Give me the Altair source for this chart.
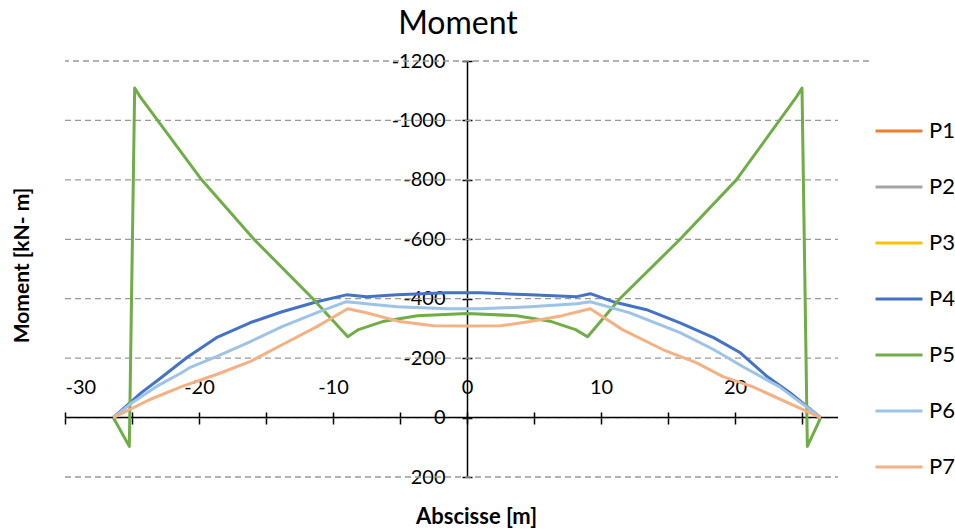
import altair as alt
import pandas as pd

# ---------------- data ----------------
series_names = ["P1", "P2", "P3", "P4", "P5", "P6", "P7"]
series_colors = ["#ED7D31", "#A5A5A5", "#FFC000", "#4472C4", "#70AD47", "#9DC3E6", "#F4B183"]

p4_x = [-26.4, -24.3, -23.0, -20.9, -18.7, -16.2, -13.8, -11.2, -9.0, -7.5, -5.2, -1.5,
        1.0, 4.7, 8.2, 9.2, 10.9, 13.4, 15.9, 18.4, 20.4, 22.4, 24.1, 26.4]
p4_m = [0, -84, -128, -202, -269, -319, -356, -390, -413, -407, -413, -420,
        -420, -413, -407, -417, -390, -363, -319, -269, -218, -138, -84, 0]

p5_x = [-26.4, -25.2, -24.8, -24.4, -19.8, -15.9, -11.5, -8.9, -8.1, -6.3, -3.7,
        0.0, 3.7, 6.3, 8.1, 9.0, 11.4, 15.9, 20.1, 24.6, 25.0, 25.4, 26.4]
p5_m = [0, 97, -1109, -1080, -800, -600, -400, -272, -296, -323, -343,
        -350, -343, -323, -296, -272, -400, -600, -800, -1080, -1109, 97, 0]

p6_x = [-26.4, -25.0, -23.2, -21.3, -20.7, -18.7, -16.2, -13.8, -11.2, -9.0, -7.5, -5.2,
        -1.5, 1.0, 4.7, 8.2, 9.2, 12.1, 15.9, 18.4, 20.6, 23.3, 26.4]
p6_m = [0, -50, -104, -151, -168, -205, -255, -306, -353, -390, -383, -373,
        -366, -366, -373, -383, -390, -353, -286, -229, -171, -104, 0]

p7_x = [-26.4, -23.7, -21.3, -18.7, -16.2, -13.8, -11.2, -8.9, -7.5, -5.0, -2.5, 0.0,
        2.5, 4.7, 7.1, 9.2, 11.6, 14.6, 17.1, 19.1, 21.3, 26.4]
p7_m = [0, -60, -104, -145, -188, -245, -306, -366, -353, -323, -309, -308,
        -309, -323, -343, -366, -296, -229, -185, -138, -104, 0]

x_ticks = [-30, -25, -20, -15, -10, -5, 0, 5, 10, 15, 20, 25]
y_ticks = [-1200, -1000, -800, -600, -400, -200, 0, 200]

rows = []
for name, xs, ms in [("P4", p4_x, p4_m), ("P5", p5_x, p5_m), ("P6", p6_x, p6_m), ("P7", p7_x, p7_m)]:
    for i, (xv, mv) in enumerate(zip(xs, ms)):
        rows.append({"series": name, "x": xv, "m": mv, "order": i})
df = pd.DataFrame(rows)
grid_df = pd.DataFrame({"v": y_ticks})

FONT = "Lato"
LEGEND_EDGE = 773  # px from plot left where the legend box starts

x_scale = alt.Scale(domain=[-30, 30], nice=False, zero=False)
y_scale = alt.Scale(domain=[-1200, 200], reverse=True, nice=False, zero=False)

grid_top = alt.Chart(grid_df).transform_filter("datum.v == -1200").mark_rule(
    color="#999999", strokeWidth=1.3, strokeDash=[6, 4]).encode(
    y=alt.Y("v:Q", scale=y_scale, axis=None),
)
grid_rest = alt.Chart(grid_df).transform_filter("datum.v != -1200").mark_rule(
    color="#999999", strokeWidth=1.3, strokeDash=[6, 4]).encode(
    y=alt.Y("v:Q", scale=y_scale, axis=None),
    x=alt.value(0), x2=alt.value(LEGEND_EDGE),
)
x_domain = alt.Chart(grid_df).transform_filter("datum.v == 0").mark_rule(
    color="black", strokeWidth=1.5).encode(
    y=alt.Y("v:Q", scale=y_scale, axis=None),
    x=alt.value(0), x2=alt.value(LEGEND_EDGE),
)

lines = alt.Chart(df).mark_line(strokeWidth=3, strokeJoin="round").encode(
    x=alt.X("x:Q", scale=x_scale, axis=alt.Axis(
        orient="top", offset=-357, values=x_ticks,
        labelExpr="datum.value % 10 == 0 ? datum.value + '' : ''",
        grid=False, domain=False,
        tickColor="black", tickWidth=1.5, tickSize=6,
        labelFont=FONT, labelFontSize=20, labelColor="black", labelPadding=15,
        title="Abscisse [m]", titleFont=FONT, titleFontSize=22, titleFontWeight="bold",
        titleColor="black", titleX=411, titleY=105, titleAlign="center",
        titleBaseline="alphabetic")),
    y=alt.Y("m:Q", scale=y_scale, axis=alt.Axis(
        orient="left", offset=-402, values=y_ticks, labelExpr="datum.value + ''",
        grid=False, domainColor="black", domainWidth=1.5,
        tickColor="black", tickWidth=1.5, tickSize=5,
        labelFont=FONT, labelFontSize=20, labelColor="black", labelPadding=17,
        title="Moment [kN- m]", titleFont=FONT, titleFontSize=21, titleFontWeight="bold",
        titleColor="black", titleX=-445, titleY=204, titleAlign="center",
        titleBaseline="middle", titleAngle=270)),
    color=alt.Color("series:N", scale=alt.Scale(domain=series_names, range=series_colors),
                    legend=alt.Legend(
                        title=None, orient="none", legendX=LEGEND_EDGE, legendY=9,
                        symbolType="stroke", symbolSize=2200, symbolStrokeWidth=3,
                        labelFont=FONT, labelFontSize=22, labelColor="black",
                        labelOffset=5, rowPadding=20, padding=36)),
    order="order:Q",
)

ticks2 = alt.Chart(df).mark_line(strokeOpacity=0).encode(
    x=alt.X("x:Q", scale=x_scale, axis=alt.Axis(
        orient="bottom", offset=-59, values=x_ticks, labels=False, domain=False,
        grid=False, tickColor="black", tickWidth=1.5, tickSize=6, title="")),
    y=alt.Y("m:Q", scale=y_scale, axis=alt.Axis(
        orient="right", offset=-402, values=y_ticks, labels=False, domain=False,
        grid=False, tickColor="black", tickWidth=1.5, tickSize=5, title="")),
    detail="series:N",
    order="order:Q",
)

chart = alt.layer(grid_top, grid_rest, x_domain, ticks2, lines).resolve_axis(
    x="independent", y="independent").properties(
    width=804, height=416,
    background="white",
    autosize=alt.AutoSizeParams(type="none"),
    padding={"left": 65, "top": 61, "right": 86, "bottom": 52},
    title=alt.TitleParams("Moment", font=FONT, fontSize=32, fontWeight="normal",
                          color="black", anchor="middle", dx=-9, dy=-6),
).configure_view(strokeWidth=0, stroke="transparent")

chart.save("out.html", embed_options={"renderer": "svg", "actions": False})
